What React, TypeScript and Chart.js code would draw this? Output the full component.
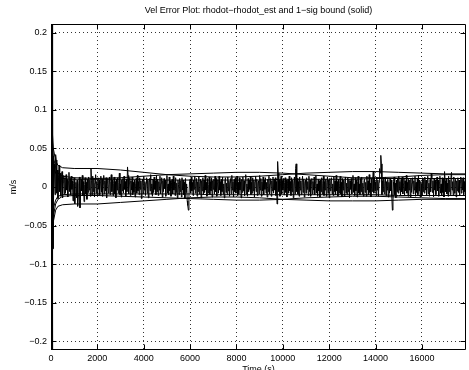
import React, { useEffect, useRef } from "react";
import { Chart, registerables } from "chart.js";

Chart.register(...registerables);

// ---------- data ----------
const TITLE = "Vel Error Plot: rhodot\u2212rhodot_est and 1\u2212sig bound (solid)";
const X_LABEL = "Time (s)";
const Y_LABEL = "m/s";
const X_MIN = 0;
const X_MAX = 17900;
const Y_MIN = -0.2113;
const Y_MAX = 0.2113;
const xTickValues = [0, 2000, 4000, 6000, 8000, 10000, 12000, 14000, 16000];
const yTickValues = [-0.2, -0.15, -0.1, -0.05, 0, 0.05, 0.1, 0.15, 0.2];
const yTickLabels = ["\u22120.2", "\u22120.15", "\u22120.1", "\u22120.05", "0", "0.05", "0.1", "0.15", "0.2"];

// initial transient of the error (s, m/s)
const earlyTimes = [0, 8, 16, 24, 32, 40, 48, 56, 64, 72, 80, 88, 94];
const earlyErr = [0.211, -0.211, 0.211, -0.211, 0.211, -0.211, 0.211, -0.211, 0.2, -0.2, 0.12, -0.08, 0.04];

// residual error after the transient, sampled every 25 s from t = 100 s (mm/s)
const ERR_START = 100;
const ERR_STEP = 25;
const errMilli = [
  25, -18, 30, -10, 42, 35, -8, 22, -15, 12, 28, -6, 18, -12, 9, 20, -14, 6, 15, -9,
  12, -8, 16, -4, 10, -13, 7, 19, -6, 11, -10, 14, -3, 8, -18, 5, 12, -22, -9, 6,
  -14, 9, -25, -12, 4, 13, -27, -8, 10, -5, 15, -11, 7, -19, 3, 12, -9, 6, -16, 10,
  -7, 13, -4, 9, -12, 24, 8, -10, 14, -6, 11, -13, 5, 16, -8, 7, -11, 12, -3, 9,
  -10, 6, 14, -7, 10, -12, 4, 15, -9, 8, -5, 12, -14, 6, 11, -8, 3, 13, -10, 7,
  16, -6, 9, -11, 5, 13, -9, 7, -14, 10, -4, 12, -8, 6, 18, -10, 4, -13, 9, -5,
  11, -8, 14, -3, 7, -12, 10, -6, 26, 15, -9, 5, 12, -11, 8, -4, 13, -10, 6, -7,
  9, -13, 4, 11, -8, 15, -5, 7, -10, 12, -3, 8, -15, 6, 10, -9, 14, -4, 7, -11,
  5, 12, -8, 9, -14, 6, 11, -5, 16, -9, 4, -12, 10, -7, 13, -3, 8, -10, 15, -6,
  10, -11, 7, -4, 14, -9, 5, 12, -13, 8, -6, 11, -2, 9, -12, 6, 15, -8, 4, -10,
  13, -5, 8, -12, 6, 10, -9, 14, -4, 7, -11, 12, -7, 5, -14, 9, 3, -10, 11, -6,
  8, -13, 12, -4, 9, -10, 6, -15, 11, -7, 4, -18, -24, -30, -12, 7, 10, -8, 13, -5,
  6, -11, 9, -3, 14, -8, 5, 11, -12, 7, -6, 13, -9, 4, 10, -14, 8, -5, 12, -10,
  9, -7, 15, -4, 6, -12, 11, -8, 3, 13, -10, 7, -5, 12, -13, 8, -3, 10, -9, 14,
  -6, 11, -12, 5, 9, -8, 14, -4, 7, -11, 10, -6, 13, -9, 4, -14, 8, 12, -7, 5,
  -10, 13, -5, 8, -12, 6, 11, -9, 15, -4, 7, -13, 10, -6, 12, -8, 3, 14, -11, 6,
  -9, 12, -4, 7, -14, 10, -7, 13, -5, 8, -11, 6, 16, -9, 4, -12, 11, -6, 9, -3,
  13, -10, 6, -8, 12, -5, 9, -13, 7, 14, -6, 10, -11, 5, 8, -9, 15, -4, 11, -12,
  7, -5, 13, -10, 9, -3, 12, -8, 6, -13, 10, -6, 14, -9, 4, 11, -12, 8, -5, 13,
  -8, 10, -4, 12, -11, 7, -22, 33, 18, -6, 9, -12, 5, 14, -9, 8, -4, 11, -10, 6,
  12, -7, 9, -13, 5, 10, -8, 14, -5, 7, -11, 12, -6, 9, -14, 4, 13, -9, 24, 30,
  -6, 11, -9, 7, -12, 13, -4, 8, -10, 6, 14, -7, 10, -13, 5, 9, -8, 12, -3, 7,
  -11, 14, -6, 9, -12, 5, 11, -9, 7, -4, 13, -10, 6, 15, -8, 4, -12, 10, -5, 8,
  -13, 9, -6, 12, -9, 5, 14, -11, 7, -4, 10, -12, 6, 13, -8, 9, -14, 11, -5, 7,
  12, -9, 4, -11, 13, -6, 8, -10, 15, -5, 7, -12, 10, -8, 5, 14, -9, 6, -13, 11,
  -4, 9, -12, 7, 13, -8, 5, -10, 12, -6, 10, -14, 8, -3, 11, -9, 6, 15, -7, 4,
  -11, 12, -5, 9, -13, 7, 14, -8, 4, -10, 11, -6, 13, -9, 5, -12, 8, 10, -7, 6,
  -12, 14, -4, 8, -10, 16, -7, 5, -13, 11, -6, 9, 20, -8, 12, -5, 7, -11, 13, -4,
  9, -12, 6, 24, 18, 41, 30, -10, 8, -6, 12, -9, 5, 13, -11, 7, -4, 10, -13, 6,
  -8, 11, -5, 9, -12, -30, -18, 7, 13, -10, 5, -14, 9, -6, 11, -8, 14, -4, 7, -11,
  10, -6, 13, -9, 4, 12, -11, 8, -5, 15, -8, 6, -12, 10, -4, 9, -13, 11, -7, 5,
  12, -9, 8, -4, 14, -12, 6, -7, 11, -10, 15, -5, 9, -13, 7, 4, -11, 12, -6, 10,
  -8, 13, -4, 9, -11, 6, 14, -9, 5, -12, 10, -6, 18, 12, -7, 8, -13, 11, -4, 9,
  -10, 7, 13, -5, 9, -12, 6, 14, -8, 4, -11, 12, -7, 10, -13, 20, 8, -6, 11, -9,
  5, -12, 14, -6, 9, -10, 12, 19, -4, 7, -11, 13, -8, 6, 10, -13, 8, -5, 12, -7,
  9, -11, 6, 13, -8, 10, -4, 12, -10, 7, -6, 11, 4,
];

// 1-sigma bounds (m/s) at these times (s)
const boundTimes = [0, 30, 60, 100, 200, 300, 500, 1000, 2000, 3000, 4000, 5000, 6000, 7000, 8000, 9000, 10000, 11000, 12000, 13000, 14000, 15000, 16000, 17000, 17900];
const bound1Upper = [0.211, 0.12, 0.07, 0.05, 0.034, 0.028, 0.025, 0.024, 0.024, 0.022, 0.019, 0.016, 0.014, 0.013, 0.013, 0.014, 0.016, 0.018, 0.019, 0.02, 0.02, 0.019, 0.018, 0.017, 0.017];
const bound1Lower = [-0.211, -0.12, -0.07, -0.045, -0.03, -0.025, -0.023, -0.022, -0.022, -0.02, -0.018, -0.016, -0.014, -0.013, -0.013, -0.014, -0.016, -0.017, -0.018, -0.018, -0.018, -0.017, -0.016, -0.016, -0.016];
const bound2Upper = [0.211, 0.1, 0.06, 0.04, 0.025, 0.018, 0.014, 0.012, 0.011, 0.012, 0.014, 0.016, 0.017, 0.018, 0.019, 0.019, 0.018, 0.016, 0.014, 0.012, 0.012, 0.013, 0.015, 0.016, 0.016];
const bound2Lower = [-0.211, -0.1, -0.06, -0.038, -0.022, -0.016, -0.012, -0.011, -0.011, -0.012, -0.013, -0.014, -0.015, -0.016, -0.017, -0.017, -0.016, -0.014, -0.013, -0.012, -0.012, -0.013, -0.014, -0.015, -0.015];
const bound3Upper = [0.211, 0.08, 0.045, 0.03, 0.018, 0.013, 0.011, 0.01, 0.01, 0.01, 0.01, 0.009, 0.009, 0.009, 0.009, 0.009, 0.01, 0.01, 0.01, 0.01, 0.011, 0.011, 0.011, 0.011, 0.011];
const bound3Lower = [-0.211, -0.08, -0.045, -0.028, -0.017, -0.012, -0.01, -0.009, -0.009, -0.009, -0.009, -0.009, -0.009, -0.01, -0.01, -0.01, -0.01, -0.01, -0.01, -0.01, -0.01, -0.011, -0.011, -0.011, -0.011];

// ---------- helpers ----------
const FONT = { family: "'Liberation Sans', Arial, Helvetica, sans-serif", size: 9 };

function pts(xs: number[], ys: number[]) {
  return xs.map((x, i) => ({ x, y: ys[i] }));
}

function errPoints() {
  const out = pts(earlyTimes, earlyErr);
  errMilli.forEach((v, i) => out.push({ x: ERR_START + i * ERR_STEP, y: v / 1000 }));
  return out;
}

const boxPlugin = {
  id: "matlabBox",
  afterDraw(chart: any) {
    const { ctx, chartArea: a, scales } = chart;
    const xs = scales.x;
    const ys = scales.y;
    ctx.save();
    ctx.strokeStyle = "#000";
    ctx.lineWidth = 1;
    ctx.beginPath();
    const L = Math.round(a.left) + 0.5;
    const R = Math.round(a.right) - 0.5;
    const T = Math.round(a.top) + 0.5;
    const B = Math.round(a.bottom) - 0.5;
    ctx.rect(L, T, R - L, B - T);
    const len = 5;
    xs.ticks.forEach((t: any) => {
      const px = Math.round(xs.getPixelForValue(t.value)) + 0.5;
      ctx.moveTo(px, B);
      ctx.lineTo(px, B - len);
      ctx.moveTo(px, T);
      ctx.lineTo(px, T + len);
    });
    ys.ticks.forEach((t: any) => {
      const py = Math.round(ys.getPixelForValue(t.value)) + 0.5;
      ctx.moveTo(L, py);
      ctx.lineTo(L + len, py);
      ctx.moveTo(R, py);
      ctx.lineTo(R - len, py);
    });
    ctx.stroke();
    ctx.restore();
  },
};

export default function App() {
  const ref = useRef<HTMLCanvasElement | null>(null);

  useEffect(() => {
    if (!ref.current) return;
    const line = (data: any[]) => ({
      data,
      borderColor: "#000",
      borderWidth: 1,
      pointRadius: 0,
      fill: false,
      tension: 0,
    });
    const chart = new Chart(ref.current, {
      type: "line",
      data: {
        datasets: [
          line(pts(boundTimes, bound1Upper)),
          line(pts(boundTimes, bound1Lower)),
          line(pts(boundTimes, bound2Upper)),
          line(pts(boundTimes, bound2Lower)),
          line(pts(boundTimes, bound3Upper)),
          line(pts(boundTimes, bound3Lower)),
          line(errPoints()),
        ],
      },
      options: {
        animation: false,
        responsive: false,
        devicePixelRatio: 1,
        layout: { padding: { left: 0, right: 3, top: 0, bottom: 0 } },
        plugins: {
          legend: { display: false },
          tooltip: { enabled: false },
          title: {
            display: true,
            text: TITLE,
            color: "#000",
            font: { ...FONT, weight: "normal" },
            padding: { top: 5.6, bottom: 7.6 },
            fullSize: false,
          },
        },
        scales: {
          x: {
            type: "linear",
            min: X_MIN,
            max: X_MAX,
            afterFit: (s: any) => { s.height = 20; },
            afterBuildTicks: (s: any) => { s.ticks = xTickValues.map((v) => ({ value: v })); },
            ticks: {
              autoSkip: false,
              color: "#000",
              font: FONT,
              padding: 3,
              maxRotation: 0,
              callback: (v: any) => String(v),
            },
            grid: { color: "rgba(0,0,0,0.8)", drawTicks: false, lineWidth: 1 },
            border: { display: false, dash: [1, 3] },
            title: { display: true, text: X_LABEL, color: "#000", font: FONT, padding: { top: 0, bottom: -5 } },
          },
          y: {
            type: "linear",
            min: Y_MIN,
            max: Y_MAX,
            afterFit: (s: any) => { s.width = 51; },
            afterBuildTicks: (s: any) => { s.ticks = yTickValues.map((v) => ({ value: v })); },
            ticks: {
              autoSkip: false,
              color: "#000",
              font: FONT,
              padding: 4,
              callback: (_v: any, i: number) => yTickLabels[i],
            },
            grid: { color: "rgba(0,0,0,0.8)", drawTicks: false, lineWidth: 1 },
            border: { display: false, dash: [1, 3] },
            title: { display: true, text: Y_LABEL, color: "#000", font: FONT, padding: { top: 8.6, bottom: 0 } },
          },
        },
      } as any,
      plugins: [boxPlugin],
    });
    return () => chart.destroy();
  }, []);

  return (
    <div style={{ position: "fixed", left: 0, top: 0, width: 469, height: 370, background: "#fff" }}>
      <canvas ref={ref} width={469} height={370} style={{ width: 469, height: 370, display: "block" }} />
    </div>
  );
}
